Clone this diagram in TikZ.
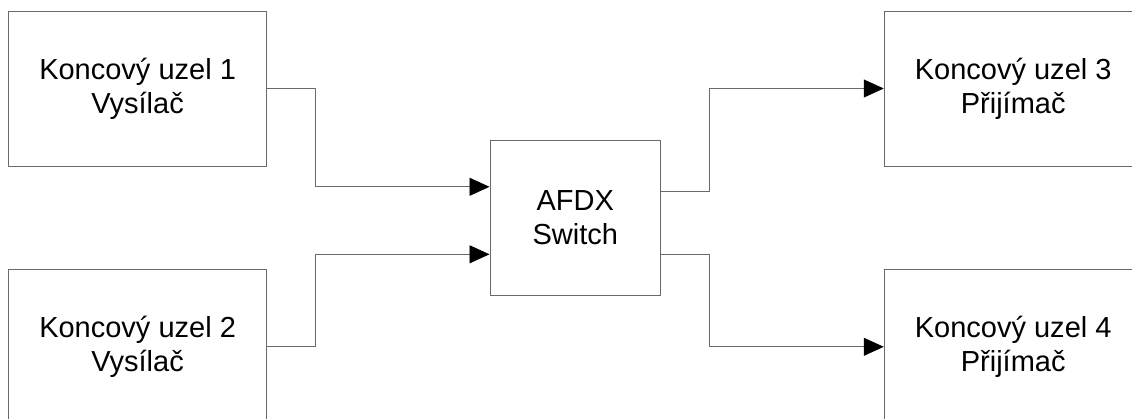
\documentclass[tikz,border=0pt]{standalone}
\usepackage{fontspec}
\setmainfont{Liberation Sans}
\usetikzlibrary{arrows.meta}
\definecolor{lineGray}{RGB}{105,105,105}

\tikzset{
  uzel/.style={draw=lineGray, line width=0.9pt, minimum width=258pt, minimum height=155pt,
    align=center, inner sep=0pt, font=\fontsize{29}{34}\selectfont},
  prepinac/.style={uzel, minimum width=170.7pt, minimum height=154.3pt},
  spoj/.style={draw=lineGray, line width=0.9pt,
    -{Triangle[length=20pt, width=18pt, color=black, fill=black]}}
}

\begin{document}
\begin{tikzpicture}[x=1pt, y=-1pt, line join=round]
\useasboundingbox (0,0) rectangle (1132,418);
\node[uzel] (k1) at (137.6,88.5) {Koncový uzel 1\\Vysílač};
\node[uzel] (k2) at (137.6,346.8) {Koncový uzel 2\\Vysílač};
\node[prepinac] (sw) at (575.3,217.8) {AFDX\\Switch};
\node[uzel] (k3) at (1013.2,88.5) {Koncový uzel 3\\Přijímač};
\node[uzel] (k4) at (1013.2,346.8) {Koncový uzel 4\\Přijímač};
\draw[spoj] (k1.east) -- ++(48.3,0) |- ([yshift=31pt]sw.west);
\draw[spoj] (k2.east) -- ++(48.3,0) |- ([yshift=-36.5pt]sw.west);
\draw[spoj] ([yshift=26pt]sw.east) -- ++(48.6,0) |- (k3.west);
\draw[spoj] ([yshift=-36.5pt]sw.east) -- ++(48.6,0) |- (k4.west);
\end{tikzpicture}
\end{document}
